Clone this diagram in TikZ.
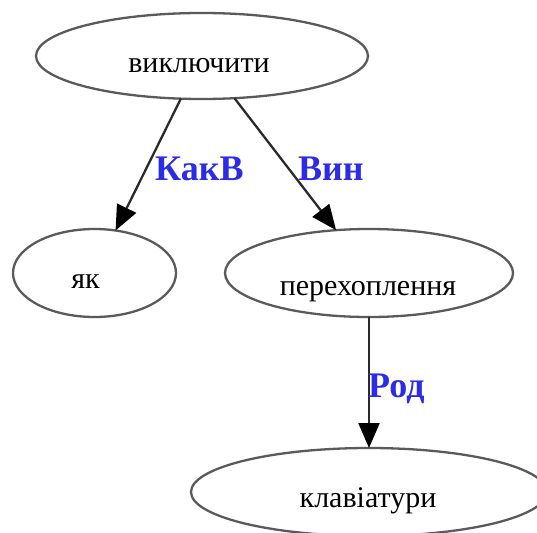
\documentclass[tikz,border=0pt]{standalone}
\usepackage{fontspec}
\setmainfont{Liberation Serif}
\usetikzlibrary{shapes.geometric,arrows.meta}

\definecolor{rimgray}{HTML}{5A5A5A}
\definecolor{edgegray}{HTML}{2A2A2A}
\definecolor{relblue}{HTML}{2B2BE8}

% text of a vertex: shifted by (#1, #2) pt from the centre, baseline at the shifted point
\newcommand\vtext[3]{\raisebox{-#2pt}[0pt][0pt]{\makebox[0pt]{\hspace*{#1pt}\hspace*{#1pt}#3}}}

\begin{document}
\begin{tikzpicture}[x=1pt,y=-1pt,
  vertex/.style={ellipse, draw=rimgray, line width=2.3pt, inner sep=0pt, outer sep=0pt,
    font=\fontsize{30}{36}\selectfont},
  rel/.style={draw=edgegray, line width=2.3pt,
    -{Triangle[length=25pt,width=21pt,fill=black,color=black]}},
  rellabel/.style={anchor=base west, inner sep=0pt, text=relblue,
    font=\fontsize{36}{42}\selectfont\bfseries}]
  \useasboundingbox (0,0) rectangle (537,532);

  \node[vertex, minimum width=332pt, minimum height=86pt] (verb) at (202,56)
    {\vtext{-3}{17}{виключити}};
  \node[vertex, minimum width=163pt, minimum height=88pt] (how) at (94.5,273)
    {\vtext{-9}{15}{як}};
  \node[vertex, minimum width=288pt, minimum height=88pt] (obj) at (369,273)
    {\vtext{-1}{22}{перехоплення}};
  \node[vertex, minimum width=356pt, minimum height=88pt] (gen) at (369,492)
    {\vtext{-1}{15}{клавіатури}};

  \draw[rel] (verb) -- (how);
  \draw[rel] (verb) -- (obj);
  \draw[rel] (obj) -- (gen);

  \node[rellabel] (lhow) at (155,180) {КакВ};
  \node[rellabel] (lobj) at (298,180) {Вин};
  \node[rellabel] (lgen) at (368,397) {Род};
\end{tikzpicture}
\end{document}
